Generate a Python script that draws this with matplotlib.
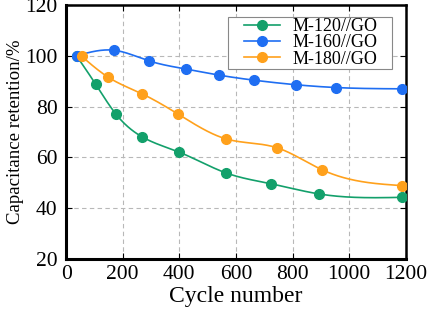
import numpy as np
import matplotlib.pyplot as plt
from matplotlib.patches import Rectangle

plt.rcParams['font.family'] = ['Liberation Serif', 'DejaVu Serif']

# data
x120 = [37, 104, 175, 267, 399, 565, 725, 895, 1188]
y120 = [100, 88.9, 77.2, 68.2, 62.1, 53.9, 49.6, 45.6, 44.3]
x160 = [37, 168, 293, 423, 540, 664, 813, 954, 1188]
y160 = [100, 102.2, 98.0, 94.8, 92.4, 90.4, 88.6, 87.5, 87.0]
x180 = [55, 147, 267, 395, 565, 745, 905, 1188]
y180 = [99.8, 91.7, 85.1, 77.1, 67.3, 63.8, 55.1, 48.9]

labels = ['M-120//GO', 'M-160//GO', 'M-180//GO']
colors = ['#13a06b', '#1f6ef2', '#ffa11c']


# natural cubic spline through the points, used only to draw the line
def spline(x, y, n=300):
    x = np.asarray(x, float)
    y = np.asarray(y, float)
    k = len(x)
    h = np.diff(x)
    A = np.zeros((k, k))
    b = np.zeros(k)
    A[0, 0] = A[-1, -1] = 1
    for i in range(1, k - 1):
        A[i, i - 1] = h[i - 1]
        A[i, i] = 2 * (h[i - 1] + h[i])
        A[i, i + 1] = h[i]
        b[i] = 6 * ((y[i + 1] - y[i]) / h[i] - (y[i] - y[i - 1]) / h[i - 1])
    m = np.linalg.solve(A, b)
    xs = np.linspace(x[0], x[-1], n)
    j = np.clip(np.searchsorted(x, xs) - 1, 0, k - 2)
    t0 = xs - x[j]
    t1 = x[j + 1] - xs
    hj = h[j]
    ys = (m[j] * t1 ** 3 + m[j + 1] * t0 ** 3) / (6 * hj) \
        + (y[j] / hj - m[j] * hj / 6) * t1 + (y[j + 1] / hj - m[j + 1] * hj / 6) * t0
    return xs, ys


fig = plt.figure(figsize=(4.29, 3.11), dpi=100)
ax = fig.add_axes([0.154, 0.167, 0.792, 0.817])

for xs, ys, lab, c in zip([x120, x160, x180], [y120, y160, y180], labels, colors):
    sx, sy = spline(xs, ys)
    ax.plot(sx, sy, color=c, lw=1.2, zorder=3)
    ax.plot(xs, ys, 'o', color=c, ms=7, zorder=4)
    ax.plot([], [], '-o', color=c, ms=7, lw=1.2, label=lab)

ax.set_xlim(0, 1200)
ax.set_ylim(20, 120)
ax.set_xticks(range(0, 1201, 200))
ax.set_yticks(range(20, 121, 20))
ax.grid(True, ls=(0, (4, 3)), color='#b8b8b8', lw=0.8)
ax.tick_params(direction='in', top=True, right=True, labelsize=15.5, length=4, pad=6)
ax.tick_params(axis='x', pad=4)
for s in ['left', 'bottom']:
    ax.spines[s].set_linewidth(2.2)
for s in ['top', 'right']:
    ax.spines[s].set_linewidth(1.8)

ax.set_xlabel('Cycle number', fontsize=17, labelpad=2)
ax.set_ylabel('Capacitance retention/%', fontsize=13.5, labelpad=1)

# legend frame drawn by hand (wider side padding than the legend allows)
ax.add_patch(Rectangle((0.476, 0.748), 0.483, 0.205, transform=ax.transAxes,
                       fc='white', ec='#888888', lw=0.8, zorder=5))
leg = ax.legend(loc='center', bbox_to_anchor=(0.72, 0.8505), fontsize=13,
                frameon=False, handlelength=2.0, borderpad=0.2,
                labelspacing=-0.05, handletextpad=0.7)
leg.set_zorder(6)

fig.savefig('out.png', dpi=100)
